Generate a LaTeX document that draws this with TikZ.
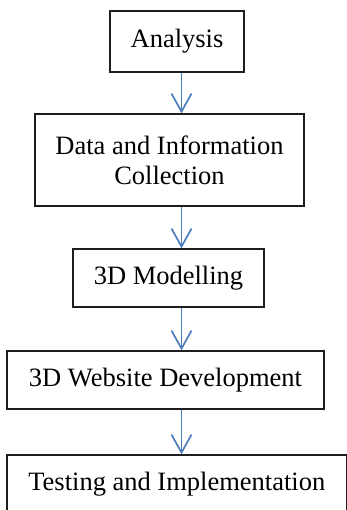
\documentclass[tikz,border=0pt]{standalone}
\usepackage{fontspec}
\setmainfont{Liberation Serif}
\usepackage{tikz}
\usetikzlibrary{arrows.meta}
\definecolor{fblue}{RGB}{74,126,187}
\definecolor{bline}{RGB}{30,30,30}
\tikzset{
  stage/.style={draw=bline, line width=1.3pt, inner sep=0pt, align=center, font=\fontsize{26.5}{30}\selectfont},
  flow/.style={-{Straight Barb[length=18pt,width=20pt]}, fblue, line width=1.7pt},
  chart/.style={x=1pt, y=1pt}
}
\begin{document}
\begin{tikzpicture}[chart]
        \clip (0,0) rectangle (347,-510);
        \node[stage, minimum width=134pt, minimum height=61pt] (ana) at (177,-41.5) {Analysis};
        \node[stage, minimum width=269pt, minimum height=92pt] (dat) at (169.5,-160) {Data and Information\\Collection};
        \node[stage, minimum width=191pt, minimum height=58pt] (mod) at (168.5,-278) {3D Modelling};
        \node[stage, minimum width=317pt, minimum height=58pt] (web) at (165.5,-380) {3D Website Development};
        \node[stage, minimum width=339.7pt, minimum height=58pt] (tst) at (176.8,-484) {Testing and Implementation};
        \coordinate (ax) at (181.5,0);
        \draw[flow] (ana.south -| ax) -- (dat.north -| ax);
        \draw[flow] (dat.south -| ax) -- (mod.north -| ax);
        \draw[flow] (mod.south -| ax) -- (web.north -| ax);
        \draw[flow] (web.south -| ax) -- (tst.north -| ax);
      \end{tikzpicture}
\end{document}
